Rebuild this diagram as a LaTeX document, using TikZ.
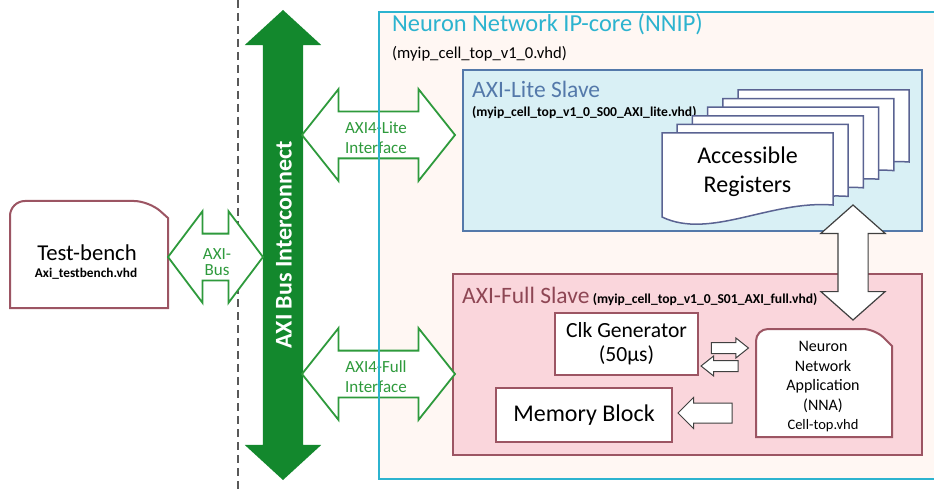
\documentclass[tikz,border=0pt]{standalone}
\usepackage{fontspec}
\setmainfont{Carlito}
\usetikzlibrary{positioning, shapes.arrows}

\definecolor{nnipcyan}{HTML}{2CB3CF}
\definecolor{nnipfill}{HTML}{FFF7F3}
\definecolor{litefill}{HTML}{D9F0F5}
\definecolor{liteblue}{HTML}{5479AA}
\definecolor{pageblue}{HTML}{5A6392}
\definecolor{fullfill}{HTML}{FAD6DC}
\definecolor{fullred}{HTML}{9C5563}
\definecolor{fulltext}{HTML}{8E4654}
\definecolor{busgreen}{HTML}{13882D}
\definecolor{ifgreen}{HTML}{2E9A3C}
\definecolor{arrowgray}{HTML}{404040}

\newcommand{\fsz}[2]{\fontsize{#1}{#2}\selectfont}

\tikzset{
box/.style={draw=fullred, line width=2pt, fill=white, align=center}, % white blocks inside the slaves
page/.style={draw=pageblue, line width=1.5pt, fill=white}, % one sheet of the register stack
ifarrow/.style={double arrow, draw=ifgreen, line width=1.8pt, fill=white, inner sep=0pt,
  inner ysep=22.5pt, double arrow head extend=22.5pt}, % green outlined bus arrows
smallarrow/.style={single arrow, draw=arrowgray, line width=1pt, fill=white, inner sep=0pt}, % arrows between blocks
iftext/.style={text=ifgreen, align=center, font=\fsz{17}{20}}, % text inside the green arrows
title/.style={anchor=base west, inner xsep=0pt}, % headings in the corners of the regions
}

\begin{document}
\begin{tikzpicture}[x=1pt, y=-1pt]
\useasboundingbox (0,0) rectangle (934,489);

% NNIP region, open at the right border
\fill[nnipfill] (379,12) rectangle (934,479);

\coordinate (dashtop) at (238,0);
\coordinate (dashbot) at (238,489);
\draw[gray!70!black, line width=2pt, dash pattern=on 8pt off 5pt] (dashtop) -- (dashbot);

% the two slaves
\node[draw=liteblue, fill=litefill, line width=2pt, anchor=north west, minimum width=459pt, minimum height=161pt] (lite) at (462,69) {};
\node[draw=fullred, fill=fullfill, line width=2pt, anchor=north west, minimum width=469pt, minimum height=181pt] (full) at (452,273) {};

\node[title, text=nnipcyan, font=\fsz{24.4}{28}] (nniptitle) at (392,32) {Neuron Network IP-core (NNIP)};
\node[title, font=\fsz{16.6}{19}] (nnipfile) at (392,59) {(myip\_cell\_top\_v1\_0.vhd)};
\node[title, text=liteblue, font=\fsz{23.5}{26}] (litetitle) at (472,98) {AXI-Lite Slave};
\node[title, font=\bfseries\fsz{13.6}{15}] (litefile) at (472,117) {(myip\_cell\_top\_v1\_0\_S00\_AXI\_lite.vhd)};
\node[title, text=fulltext, font=\fsz{23.5}{26}] (fulltitle) at (462,303) {AXI-Full Slave};
\node[base right=3pt of fulltitle, inner xsep=0pt, font=\bfseries\fsz{13.6}{15}] (fullfile) {(myip\_cell\_top\_v1\_0\_S01\_AXI\_full.vhd)};

% stack of register sheets, back to front
\foreach \i in {5,4,...,0}
  \draw[page, shift={({15.2*\i},{-8.6*\i})}] (662,133) -- (833,133) -- (833,205)
    .. controls (770,200) and (710,240) .. (662,217) -- cycle;
\node[align=center, font=\fsz{24}{29}] (regs) at (747.5,172) {Accessible\\Registers};

% blocks of the AXI-Full slave
\node[box, minimum width=143pt, minimum height=62pt, font=\fsz{21.6}{24}] (clk) at (626.5,344) {Clk Generator\\(50µs)};
\node[box, minimum width=176pt, minimum height=54pt, font=\fsz{24}{26}] (mem) at (584,415) {Memory Block};
\draw[fullred, line width=2pt, fill=white, rounded corners=12pt] (756,400) -- (756,329) -- (875,329)
  [sharp corners] -- (892,346) -- (892,437) -- (756,437) -- cycle;
\node[align=center, font=\fsz{16}{19.5}] (nna) at (823,387) {Neuron\\Network\\Application\\(NNA)\\{\fsz{14.5}{19.5}Cell-top.vhd}};

\node[smallarrow, inner ysep=5pt, single arrow head extend=4.5pt, single arrow tip angle=77, minimum height=37pt] (clk2nna) at (726.5,348) {};
\node[smallarrow, inner ysep=5pt, single arrow head extend=4.5pt, single arrow tip angle=77, minimum height=37pt, shape border rotate=180] (nna2clk) at (723,366) {};
\node[smallarrow, inner ysep=9.5pt, single arrow head extend=5.5pt, single arrow tip angle=90, minimum height=54pt, shape border rotate=180] (nna2mem) at (710,413) {};

% lite <-> full
\node[double arrow, draw=arrowgray, fill=white, line width=1.2pt, rotate=90, inner sep=0pt, inner ysep=14.5pt,
  double arrow head extend=17pt, double arrow tip angle=97, minimum height=115pt] (litefull) at (853,262.5) {};

% test bench
\draw[fullred, line width=2pt, fill=white, rounded corners=15pt] (10,260) -- (10,201) -- (149,201)
  [sharp corners] -- (168,218) -- (168,308) -- (10,308) -- cycle;
\node[anchor=base, font=\fsz{22.7}{26}] (tb) at (87,260) {Test-bench};
\node[anchor=base, font=\bfseries\fsz{13.3}{16}] (tbfile) at (86,277) {Axi\_testbench.vhd};

% bus interconnect and interfaces
\node[double arrow, fill=busgreen, rotate=90, inner sep=0pt, inner ysep=20pt, double arrow head extend=18pt,
  double arrow tip angle=95, minimum height=470pt] (bus) at (283,245) {};
\node[rotate=90, text=white, font=\bfseries\fsz{24}{26}] (bustext) at (284,245) {AXI Bus Interconnect};

\node[ifarrow, double arrow tip angle=106, minimum height=95pt] (axibus) at (215.5,257) {};
\node[iftext, font=\fsz{17}{16}] (axibustext) at (217,262) {AXI-\\Bus};

\node[ifarrow, double arrow tip angle=103, minimum height=153pt] (liteif) at (378.5,135) {};
\node[iftext] (liteiftext) at (376,138) {AXI4-Lite\\Interface};
\node[ifarrow, double arrow tip angle=103, minimum height=153pt] (fullif) at (378.5,374) {};
\node[iftext] (fulliftext) at (376,377) {AXI4-Full\\Interface};

% NNIP border over the interface arrows
\draw[nnipcyan, line width=2pt] (934,12) -- (379,12) -- (379,479) -- (934,479);
\end{tikzpicture}
\end{document}
